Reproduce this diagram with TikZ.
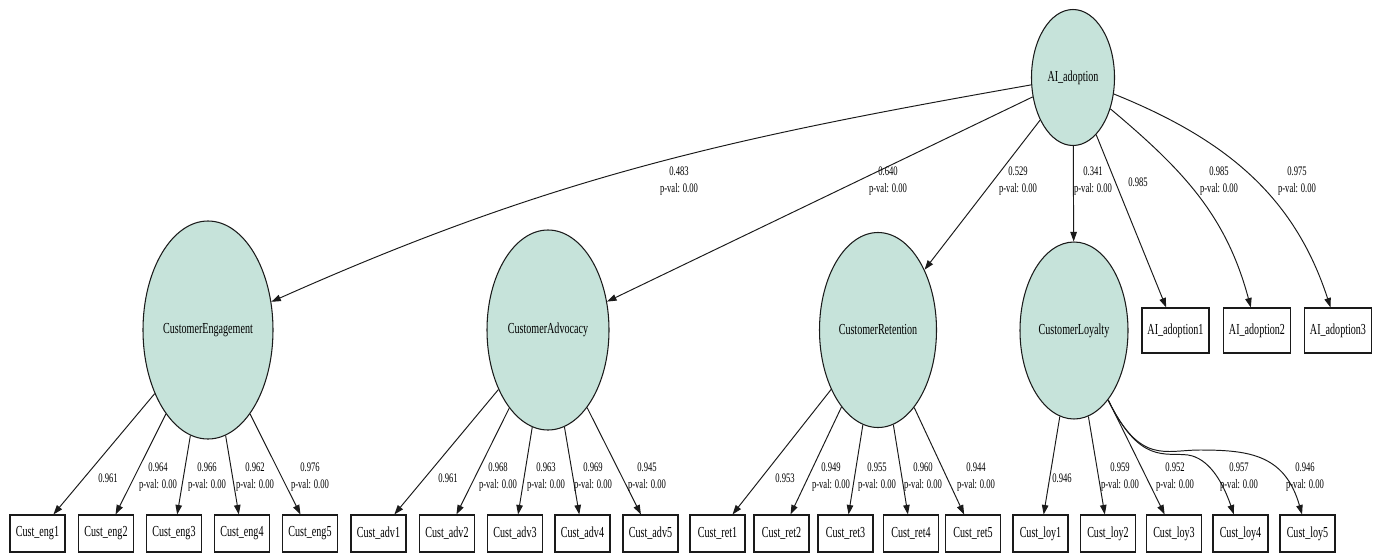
\documentclass[tikz,border=0pt]{standalone}
\usepackage{fontspec}
\usepackage{tikz}
\usetikzlibrary{arrows.meta,shapes.geometric}
\newfontfamily\semfont[FakeStretch=0.66]{Liberation Serif}
\definecolor{SEMFill}{HTML}{C6E3DA}
\definecolor{SEMLine}{HTML}{1A1A1A}
\tikzset{
  semlatent/.style={
    ellipse,
    draw=SEMLine,
    fill=SEMFill,
    line width=0.6pt,
    inner sep=0pt,
    font=\semfont\fontsize{8.7}{10}\selectfont
  },
  semobs/.style={
    rectangle,
    draw=SEMLine,
    fill=white,
    line width=0.6pt,
    inner sep=0pt,
    minimum width=11mm,
    minimum height=7.4mm,
    font=\semfont\fontsize{8.7}{10}\selectfont
  },
  aiobs/.style={semobs,minimum width=13.4mm,minimum height=9mm},
  semarrow/.style={-{Triangle[length=1.9mm,width=1.3mm]},line width=0.55pt,draw=SEMLine},
  semlabel/.style={font=\semfont\fontsize{7.4}{9.7}\selectfont,align=center,inner sep=0pt},
}

\begin{document}
\begin{tikzpicture}[x=0.2mm,y=-0.2mm]
  \useasboundingbox (0,0) rectangle (1377,559);

  % latent variables
  \node[semlatent,minimum width=16.6mm,minimum height=27.2mm] (AI) at (1073,77.5) {AI\_adoption};
  \node[semlatent,minimum width=26mm,minimum height=43.6mm] (CE) at (208,330) {CustomerEngagement};
  \node[semlatent,minimum width=24.4mm,minimum height=40mm] (CA) at (548,330) {CustomerAdvocacy};
  \node[semlatent,minimum width=23.4mm,minimum height=39mm] (CR) at (878,330) {CustomerRetention};
  \node[semlatent,minimum width=21.6mm,minimum height=35.4mm] (CL) at (1074,330.5) {CustomerLoyalty};

  % indicators
  \node[aiobs] (A1) at (1175.5,330.5) {AI\_adoption1};
  \node[aiobs] (A2) at (1257,330.5) {AI\_adoption2};
  \node[aiobs] (A3) at (1338,330.5) {AI\_adoption3};

  \foreach \obsName/\xpos/\txt in {
    eng1/37.5/Cust\_eng1,eng2/106/Cust\_eng2,eng3/174/Cust\_eng3,eng4/242/Cust\_eng4,eng5/310/Cust\_eng5,
    adv1/378.5/Cust\_adv1,adv2/447/Cust\_adv2,adv3/515/Cust\_adv3,adv4/582.5/Cust\_adv4,adv5/650.5/Cust\_adv5,
    ret1/717.5/Cust\_ret1,ret2/781.5/Cust\_ret2,ret3/845.5/Cust\_ret3,ret4/911/Cust\_ret4,ret5/973/Cust\_ret5,
    loy1/1040.5/Cust\_loy1,loy2/1108/Cust\_loy2,loy3/1174/Cust\_loy3,loy4/1240.5/Cust\_loy4,loy5/1307.5/Cust\_loy5}
    \node[semobs] (\obsName) at (\xpos,533.5) {\txt};

  % structural paths
  \draw[semarrow] (AI) to[out=190,in=24] (CE);
  \draw[semarrow] (AI) -- (CA);
  \draw[semarrow] (AI) -- (CR);
  \draw[semarrow] (AI) -- (CL);
  \draw[semarrow] (AI) -- (A1);
  \draw[semarrow] (AI) to[out=-40,in=105] (A2);
  \draw[semarrow] (AI) to[out=-22,in=108] (A3);

  \node[semlabel] (lCE) at (679,181.5) {0.483\\p-val: 0.00};
  \node[semlabel] (lCA) at (888,181.5) {0.640\\p-val: 0.00};
  \node[semlabel] (lCR) at (1018,181.5) {0.529\\p-val: 0.00};
  \node[semlabel] (lCL) at (1093,181.5) {0.341\\p-val: 0.00};
  \node[semlabel] (lA1) at (1138,182) {0.985};
  \node[semlabel] (lA2) at (1219,181.5) {0.985\\p-val: 0.00};
  \node[semlabel] (lA3) at (1297,181.5) {0.975\\p-val: 0.00};

  % measurement paths
  \foreach \lat/\obsName in {
    CE/eng1,CE/eng2,CE/eng3,CE/eng4,CE/eng5,
    CA/adv1,CA/adv2,CA/adv3,CA/adv4,CA/adv5,
    CR/ret1,CR/ret2,CR/ret3,CR/ret4,CR/ret5,
    CL/loy1,CL/loy2,CL/loy3}
    \draw[semarrow] (\lat) -- (\obsName);
  \draw[semarrow] (CL) .. controls (1140,465) and (1165,452) .. (1188,455)
    .. controls (1208,458) and (1222,480) .. (loy4);
  \draw[semarrow] (CL) .. controls (1140,465) and (1165,450) .. (1200,450)
    .. controls (1250,450) and (1285,455) .. (loy5);

  \foreach \lblName/\xpos/\val in {eng1/108/0.961,adv1/448/0.961,ret1/785/0.953,loy1/1062/0.946}
    \node[semlabel] (l\lblName) at (\xpos,478) {\val};
  \foreach \lblName/\xpos/\val in {
    eng2/158/0.964,eng3/207/0.966,eng4/255/0.962,eng5/310/0.976,
    adv2/498/0.968,adv3/546/0.963,adv4/593/0.969,adv5/647/0.945,
    ret2/831/0.949,ret3/877/0.955,ret4/923/0.960,ret5/976/0.944,
    loy2/1120/0.959,loy3/1175/0.952,loy4/1239/0.957,loy5/1305/0.946}
    \node[semlabel] (l\lblName) at (\xpos,477.5) {\val\\p-val: 0.00};
\end{tikzpicture}
\end{document}
